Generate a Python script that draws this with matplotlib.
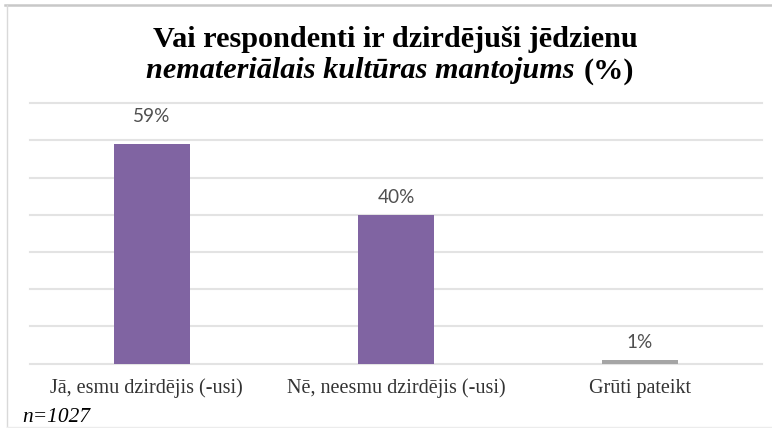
import matplotlib
matplotlib.use('Agg')
import matplotlib.pyplot as plt
from matplotlib.lines import Line2D
from matplotlib.transforms import blended_transform_factory

# ---- data ----
categories = ['Jā, esmu dzirdējis (-usi)', 'Nē, neesmu dzirdējis (-usi)', 'Grūti pateikt']
values = [59, 40, 1]
value_labels = ['59%', '40%', '1%']
bar_colors = ['#8064A2', '#8064A2', '#A5A5A5']
y_ticks = [0, 10, 20, 30, 40, 50, 60, 70]
title_line1 = 'Vai respondenti ir dzirdējuši jēdzienu'
title_line2_italic = 'nemateriālais kultūras mantojums'
title_line2_tail = '(%)'
note = 'n=1027'

W, H = 772, 428
fig = plt.figure(figsize=(W / 100, H / 100), dpi=100)
fig.patch.set_facecolor('white')
renderer = fig.canvas.get_renderer()


def fx(x):
    return x / W


def fy(y):
    return 1 - y / H


def fit_width(t, target):
    bb = t.get_window_extent(renderer)
    t.set_fontsize(t.get_fontsize() * target / bb.width)
    return t.get_fontsize()


# border of the screenshot frame
fig.add_artist(Line2D([fx(5), fx(W + 5)], [fy(5), fy(5)], color='#c8c8c8', lw=1.8,
                      transform=fig.transFigure))
fig.add_artist(Line2D([fx(6.5), fx(6.5)], [fy(5), fy(427)], color='#d9d9d9', lw=1.0,
                      transform=fig.transFigure))
fig.add_artist(Line2D([fx(6.5), fx(W + 5)], [fy(427), fy(427)], color='#ececec', lw=1.0,
                      transform=fig.transFigure))

# ---- axes ----
ax_left, ax_right, ax_top, ax_bottom = 30, 762, 103.3, 363.7
ax = fig.add_axes([fx(ax_left), fy(ax_bottom), (ax_right - ax_left) / W, (ax_bottom - ax_top) / H])
ax.set_facecolor('none')
xs = list(range(len(categories)))
ax.bar(xs, values, width=0.31, color=bar_colors, zorder=3)
ax.set_xlim(-0.5, len(categories) - 0.5)
ax.set_ylim(0, 70)
for t in y_ticks:
    ax.axhline(t, color='#e3e3e3', lw=1.5, zorder=1, clip_on=False)
for s in ax.spines.values():
    s.set_visible(False)
ax.set_xticks([])
ax.set_yticks([])

# value labels
offsets_pt = [16.0, 8.4, 8.4]
vlabels = []
for i, (v, lbl) in enumerate(zip(values, value_labels)):
    a = ax.annotate(lbl, (i, v), xytext=(0, offsets_pt[i]), textcoords='offset points',
                    ha='center', va='baseline', family='Lato', fontsize=13, color='#505050')
    vlabels.append(a)
fs = fit_width(vlabels[1], 37)
for a in vlabels:
    a.set_fontsize(fs)

# category labels
trans = blended_transform_factory(ax.transData, fig.transFigure)
clabels = []
for i, c in enumerate(categories):
    t = ax.text(i, fy(388.5), c, transform=trans, ha='center', va='center',
                family='Liberation Serif', fontsize=13, color='#333333')
    clabels.append(t)
fs = fit_width(clabels[0], 192)
for t in clabels:
    t.set_fontsize(fs)
# nudge the first label to its reference centre
clabels[0].set_x(ax.transData.inverted().transform((146, 0))[0])

# ---- title ----
t1 = fig.text(fx(395), fy(46.7), title_line1, ha='center', va='baseline',
              family='Liberation Serif', fontweight='bold', fontsize=20, color='#000000')
tfs = fit_width(t1, 486)

t2a = fig.text(0, fy(78.3), title_line2_italic, ha='left', va='baseline',
               family='Liberation Serif', fontweight='bold', style='italic', fontsize=tfs,
               color='#000000')
t2b = fig.text(0, fy(78.3), title_line2_tail, ha='left', va='baseline',
               family='Liberation Serif', fontweight='bold', fontsize=tfs, color='#000000')
wa = t2a.get_window_extent(renderer).width
wb = t2b.get_window_extent(renderer).width
gap = 9
total = wa + gap + wb
start = 390 - total / 2
t2a.set_x(fx(start))
t2b.set_x(fx(start + wa + gap))

# ---- note ----
n = fig.text(fx(22), fy(418), note, ha='left', va='center', family='Liberation Serif',
             style='italic', fontsize=14, color='#000000')
fit_width(n, 68)

fig.savefig('out.png', dpi=100, facecolor='white')
